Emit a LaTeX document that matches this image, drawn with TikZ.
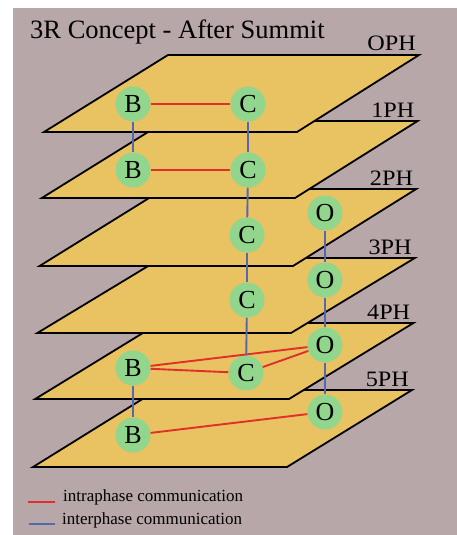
\documentclass[tikz,border=0pt]{standalone}
\usepackage{fontspec}
\setmainfont{Liberation Serif}
\definecolor{bgc}{HTML}{B7A7A8}
\definecolor{planec}{HTML}{E9C262}
\definecolor{nodec}{HTML}{92D68E}
\definecolor{intrac}{HTML}{E0302A}
\definecolor{interc}{HTML}{5468AE}
\begin{document}
\begin{tikzpicture}[x=1pt,y=-1pt,
  plane/.style={fill=planec,draw=black,line width=1.8pt,line join=miter},
  agent/.style={circle,fill=nodec,minimum size=35pt,inner sep=0pt,font=\fontsize{26}{26}\selectfont},
  phlabel/.style={inner sep=0pt,font=\fontsize{22}{22}\selectfont},
  intra/.style={draw=intrac,line width=1.9pt},
  inter/.style={draw=interc,line width=1.9pt},
  legtext/.style={inner sep=0pt,anchor=west,font=\fontsize{17}{17}\selectfont}]
\useasboundingbox (0,0) rectangle (457,535);
\fill[white] (0,0) rectangle (457,535);
\fill[bgc] (13,8) rectangle (457,535);
\node[inner sep=0pt,anchor=base west,font=\fontsize{26.5}{26.5}\selectfont] (title) at (30,38) {3R Concept - After Summit};
% planes from bottom to top
\foreach \i/\yt/\yb/\lab in {5/390/467/5PH,4/323/399/4PH,3/258/333/3PH,2/189/266/2PH,1/121/198/1PH,0/55/132/OPH}{
  \pgfmathsetmacro{\bl}{44-2.2*\i}
  \pgfmathsetmacro{\br}{297-2*\i}
  \pgfmathsetmacro{\tr}{419-1.4*\i}
  \pgfmathsetmacro{\tl}{\bl+124}
  \draw[plane] (\bl,\yb) -- (\br,\yb) -- (\tr,\yt) -- (\tl,\yt) -- cycle;
  \node[phlabel,anchor=base east,xscale=1.1] (lab\i) at (\tr-3,\yt-4) {\lab};
}
% agents
\node[agent] (B0) at (133,104) {B};
\node[agent] (C0) at (248,104) {C};
\node[agent] (B1) at (133,170) {B};
\node[agent] (C1) at (248,170) {C};
\node[agent] (C2) at (247,235) {C};
\node[agent] (O2) at (325,213) {O};
\node[agent] (C3) at (247,300) {C};
\node[agent] (O3) at (325,280) {O};
\node[agent] (O4) at (325,345) {O};
\node[agent] (B4) at (133,368) {B};
\node[agent] (C4) at (246,373) {C};
\node[agent] (O5) at (325,412) {O};
\node[agent] (B5) at (133,435) {B};
% intraphase
\draw[intra] (B0) -- (C0);
\draw[intra] (B1) -- (C1);
\draw[intra] (B4) -- (O4);
\draw[intra] (B4) -- (C4);
\draw[intra] (C4) -- (O4);
\draw[intra] (B5) -- (O5);
% interphase
\draw[inter] (B0) -- (B1);
\draw[inter] (C0) -- (C1);
\draw[inter] (C1) -- (C2);
\draw[inter] (C2) -- (C3);
\draw[inter] (C3) -- (C4);
\draw[inter] (O2) -- (O3);
\draw[inter] (O3) -- (O4);
\draw[inter] (O4) -- (O5);
\draw[inter] (B4) -- (B5);
% legend
\coordinate (r1) at (28,502);
\coordinate (r2) at (55,502);
\coordinate (b1) at (29,524);
\coordinate (b2) at (55,524);
\draw[intra] (r1) -- (r2);
\draw[inter] (b1) -- (b2);
\node[legtext] (lt1) at (63,497) {intraphase communication};
\node[legtext] (lt2) at (62,520) {interphase communication};
\end{tikzpicture}
\end{document}
